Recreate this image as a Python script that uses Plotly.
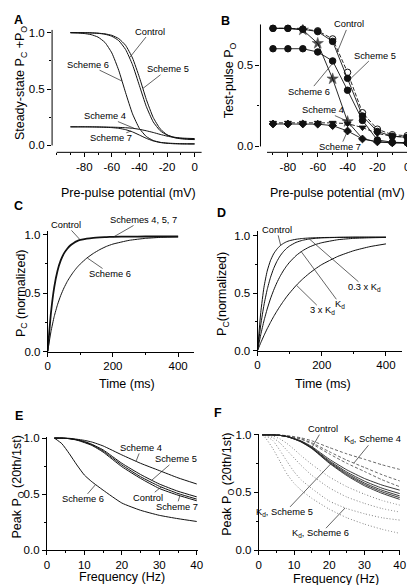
import re
import plotly.graph_objects as go

FONT = "Arial, Liberation Sans, Helvetica, sans-serif"

# ---------------- Panel A: steady-state Pc+Po vs pre-pulse potential
A_v = [-90, -85, -80, -75, -70, -65, -60, -55, -50, -45, -40, -35, -30, -25, -20, -15, -10, -5, 0]
A_control = [1.0, 0.9995, 0.9988, 0.997, 0.9937, 0.9857, 0.9676, 0.929, 0.85, 0.715, 0.53, 0.345, 0.209, 0.131, 0.092, 0.074, 0.066, 0.063, 0.061]
A_scheme5 = [1.0, 0.9997, 0.999, 0.998, 0.995, 0.989, 0.976, 0.947, 0.887, 0.775, 0.603, 0.408, 0.248, 0.148, 0.095, 0.07, 0.059, 0.054, 0.052]
A_scheme6 = [0.9985, 0.9966, 0.992, 0.982, 0.96, 0.913, 0.82, 0.666, 0.467, 0.28, 0.151, 0.079, 0.044, 0.028, 0.021, 0.018, 0.016, 0.0155, 0.015]
A_scheme4 = [0.165, 0.165, 0.165, 0.165, 0.164, 0.163, 0.162, 0.16, 0.157, 0.152, 0.143, 0.13, 0.115, 0.098, 0.083, 0.071, 0.063, 0.058, 0.055]
A_scheme7 = [0.165, 0.165, 0.165, 0.164, 0.163, 0.161, 0.158, 0.152, 0.14, 0.12, 0.092, 0.063, 0.04, 0.026, 0.019, 0.015, 0.013, 0.012, 0.012]

# ---------------- Panel B: test-pulse Po (simulated points)
B_v = [-90, -80, -70, -60, -50, -40, -30, -20, -10, 0]
B_control = [0.725, 0.725, 0.72, 0.705, 0.645, 0.418, 0.187, 0.092, 0.063, 0.056]
B_scheme5 = [0.725, 0.725, 0.72, 0.71, 0.66, 0.455, 0.207, 0.106, 0.072, 0.066]
B_scheme6 = [0.6, 0.6, 0.6, 0.58, 0.525, 0.345, 0.16, 0.04, 0.026, 0.023]
B_star = [0.725, 0.725, 0.715, 0.633, 0.415, 0.153, 0.048, 0.028, 0.024, 0.022]
B_star_shown = [False, False, True, True, True, True, False, False, False, False]
B_scheme4 = [0.145, 0.145, 0.145, 0.145, 0.145, 0.14, 0.116, 0.08, 0.062, 0.058]
B_scheme7 = [0.138, 0.138, 0.138, 0.137, 0.128, 0.095, 0.046, 0.028, 0.022, 0.02]

# ---------------- Panels C and D: Pc (normalized) vs time
T_ms = [0, 10, 20, 30, 40, 50, 60, 70, 80, 90, 100, 120, 140, 160, 180, 200, 250, 300, 350, 400]
C_control = [0, 0.33, 0.55, 0.69, 0.78, 0.84, 0.88, 0.91, 0.93, 0.945, 0.955, 0.967, 0.974, 0.978, 0.98, 0.982, 0.984, 0.985, 0.985, 0.985]
C_scheme6 = [0, 0.17, 0.3, 0.4, 0.48, 0.545, 0.6, 0.645, 0.685, 0.72, 0.75, 0.8, 0.84, 0.873, 0.9, 0.92, 0.952, 0.969, 0.978, 0.982]
D_control = [0, 0.33, 0.55, 0.69, 0.78, 0.84, 0.88, 0.91, 0.93, 0.945, 0.955, 0.967, 0.974, 0.978, 0.98, 0.982, 0.984, 0.985, 0.985, 0.985]
D_03Kd = [0, 0.223, 0.395, 0.529, 0.632, 0.712, 0.773, 0.821, 0.858, 0.887, 0.909, 0.94, 0.958, 0.969, 0.975, 0.979, 0.983, 0.985, 0.985, 0.985]
D_Kd = [0, 0.138, 0.258, 0.36, 0.448, 0.523, 0.588, 0.644, 0.692, 0.733, 0.768, 0.825, 0.867, 0.898, 0.921, 0.937, 0.963, 0.975, 0.98, 0.983]
D_3Kd = [0, 0.0675, 0.13, 0.189, 0.243, 0.294, 0.341, 0.385, 0.426, 0.465, 0.5, 0.565, 0.62, 0.668, 0.71, 0.747, 0.818, 0.868, 0.903, 0.927]

# ---------------- Panel E: peak Po (20th/1st) vs frequency
E_f = [2, 4, 6, 8, 10, 12, 15, 20, 25, 30, 35, 40]
E_control = [1.0, 1.0, 0.995, 0.985, 0.965, 0.94, 0.885, 0.76, 0.655, 0.57, 0.505, 0.455]
E_scheme5 = [1.0, 1.0, 0.995, 0.985, 0.97, 0.945, 0.895, 0.775, 0.675, 0.59, 0.525, 0.475]
E_scheme7 = [1.0, 1.0, 0.995, 0.982, 0.96, 0.935, 0.875, 0.745, 0.64, 0.55, 0.49, 0.44]
E_scheme4 = [1.0, 1.0, 0.998, 0.99, 0.98, 0.965, 0.93, 0.85, 0.775, 0.71, 0.645, 0.59]
E_scheme6 = [1.0, 0.95, 0.86, 0.76, 0.67, 0.61, 0.535, 0.42, 0.355, 0.31, 0.28, 0.255]

# ---------------- Panel F: Kd variants
F_f = [1, 2, 4, 6, 8, 10, 12, 15, 20, 25, 30, 35, 40]
F_solid = [
    [1, 1, 1, 0.996, 0.987, 0.969, 0.947, 0.899, 0.789, 0.696, 0.621, 0.564, 0.52],
    [1, 1, 1, 0.995, 0.986, 0.967, 0.944, 0.892, 0.776, 0.677, 0.598, 0.537, 0.49],
    [1, 1, 1, 0.995, 0.985, 0.966, 0.942, 0.888, 0.767, 0.665, 0.582, 0.519, 0.47],
    [1, 1, 1, 0.995, 0.985, 0.965, 0.94, 0.885, 0.76, 0.655, 0.57, 0.505, 0.455],
    [1, 1, 1, 0.995, 0.984, 0.964, 0.938, 0.882, 0.754, 0.646, 0.558, 0.492, 0.44],
]
F_dashed = [
    [1, 1, 1, 0.998, 0.993, 0.985, 0.974, 0.949, 0.89, 0.835, 0.788, 0.74, 0.70],
    [1, 1, 1, 0.998, 0.99, 0.98, 0.966, 0.932, 0.854, 0.78, 0.717, 0.654, 0.60],
    [1, 1, 1, 0.998, 0.989, 0.978, 0.962, 0.923, 0.835, 0.753, 0.682, 0.61, 0.55],
]
F_dotted = [
    [1, 1, 0.99, 0.965, 0.925, 0.875, 0.82, 0.745, 0.635, 0.55, 0.485, 0.43, 0.39],
    [1, 0.998, 0.975, 0.93, 0.865, 0.8, 0.735, 0.65, 0.54, 0.46, 0.405, 0.36, 0.33],
    [1, 0.99, 0.95, 0.865, 0.77, 0.68, 0.61, 0.535, 0.425, 0.36, 0.315, 0.28, 0.26],
    [1, 0.97, 0.88, 0.77, 0.66, 0.58, 0.52, 0.45, 0.355, 0.28, 0.225, 0.18, 0.145],
]

# tick labels
AB_ticks = [-80, -60, -40, -20, 0]
AB_ticktext = ["-80", "-60", "-40", "-20", "0"]
CD_ticks = [0, 200, 400]
EF_ticks = [0, 10, 20, 30, 40]
Y_ticks = [0, 0.5, 1.0]
Y_ticktext = ["0.0", "0.5", "1.0"]

W, H = 415, 585
fig = go.Figure()
INK = "#111111"


def curve(x, y, ax, width=1.0, dash="solid", color=INK):
    fig.add_trace(go.Scatter(x=x, y=y, xaxis="x" + ax, yaxis="y" + ax, mode="lines",
                             line=dict(color=color, width=width, dash=dash, shape="spline", smoothing=0.5),
                             hoverinfo="skip", showlegend=False))


def pts(x, y, ax, symbol, fill=INK, dash="solid", size=6.5, shown=None, mlw=1):
    sizes = size if shown is None else [size if s else 0 for s in shown]
    fig.add_trace(go.Scatter(x=x, y=y, xaxis="x" + ax, yaxis="y" + ax, mode="lines+markers",
                             line=dict(color=INK, width=0.9, dash=dash),
                             marker=dict(symbol=symbol, size=sizes, color=fill, line=dict(color=INK, width=mlw)),
                             hoverinfo="skip", showlegend=False))


# A
for ys in (A_control, A_scheme5, A_scheme6, A_scheme4, A_scheme7):
    curve(A_v, ys, "")
# B
pts(B_v, B_star, "2", "star", size=8.5, shown=B_star_shown, mlw=0.6, fill="#000000")
pts(B_v, B_scheme4, "2", "triangle-down", dash="4px,2px", size=6)
pts(B_v, B_scheme7, "2", "diamond", size=6)
pts(B_v, B_scheme6, "2", "circle")
pts(B_v, B_scheme5, "2", "circle", fill="white", dash="4px,2px")
pts(B_v, B_control, "2", "circle")
# C
curve(T_ms, C_scheme6, "3")
curve(T_ms, C_control, "3", width=1.8)
# D
for ys in (D_control, D_03Kd, D_Kd, D_3Kd):
    curve(T_ms, ys, "4")
# E
for ys in (E_control, E_scheme5, E_scheme7, E_scheme4, E_scheme6):
    curve(E_f, ys, "5")
# F
for ys in F_dotted:
    curve(F_f, ys, "6", width=1.0, dash="1px,2px", color="#808080")
for ys in F_dashed:
    curve(F_f, ys, "6", width=0.9, dash="3px,2px", color="#555555")
for ys in F_solid:
    curve(F_f, ys, "6", width=0.9, color="#222222")


def px2x(px):
    return px / W


def py2y(py):
    return 1 - py / H


def axis(dom, rng, tv, tt, minor, anchor, showline):
    return dict(domain=dom, range=rng, anchor=anchor, tickmode="array", tickvals=tv, ticktext=tt,
                ticks="outside", ticklen=4, tickwidth=1, tickcolor="black",
                showline=showline, linecolor="black", linewidth=1, mirror=False,
                showgrid=False, zeroline=False, fixedrange=True,
                tickfont=dict(family=FONT, size=11.5, color="black"),
                minor=dict(tickvals=minor, ticks="outside", ticklen=2, tickwidth=1,
                           tickcolor="black", showgrid=False))


# panel geometry in pixels: xd = (left, right) px, yd = (bottom, top) px
panels = {
    "": dict(xd=[42, 195], xr=[-103.3, 5.2], yd=[142, 17], yr=[-0.061, 1.026],
             xt=(AB_ticks, AB_ticktext, [-100, -90, -70, -50, -30, -10]),
             yt=(Y_ticks, Y_ticktext, [0.25, 0.75]), line=False),
    "2": dict(xd=[255, 412], xr=[-98.4, 4.6], yd=[142, 11.5], yr=[-0.036, 0.75],
              xt=(AB_ticks, AB_ticktext, [-90, -70, -50, -30, -10]),
              yt=([0, 0.5], ["0.0", "0.5"], [0.25]), line=False),
    "3": dict(xd=[37.5, 186.7], xr=[0, 447.6], yd=[345, 221.7], yr=[0, 1.036],
              xt=(CD_ticks, [str(v) for v in CD_ticks], [100, 300]),
              yt=(Y_ticks, Y_ticktext, [0.25, 0.75]), line=True),
    "4": dict(xd=[252, 400], xr=[0, 451], yd=[344, 221.7], yr=[0, 1.043],
              xt=(CD_ticks, [str(v) for v in CD_ticks], [100, 300]),
              yt=(Y_ticks, Y_ticktext, [0.25, 0.75]), line=True),
    "5": dict(xd=[36.7, 191], xr=[0, 40.3], yd=[547.3, 432], yr=[0, 1.011],
              xt=(EF_ticks, [str(v) for v in EF_ticks], [5, 15, 25, 35]),
              yt=(Y_ticks, Y_ticktext, [0.25, 0.75]), line=True),
    "6": dict(xd=[253.3, 398], xr=[0, 40.2], yd=[547.3, 429], yr=[0, 1.008],
              xt=(EF_ticks, [str(v) for v in EF_ticks], [5, 15, 25, 35]),
              yt=(Y_ticks, Y_ticktext, [0.25, 0.75]), line=True),
}

layout = dict(width=W, height=H, margin=dict(l=0, r=0, t=0, b=0),
              paper_bgcolor="white", plot_bgcolor="white", showlegend=False,
              font=dict(family=FONT, color="black"))
for k, p in panels.items():
    xd = [px2x(p["xd"][0]), px2x(p["xd"][1])]
    yd = [py2y(p["yd"][0]), py2y(p["yd"][1])]
    layout["xaxis" + k] = axis(xd, p["xr"], *p["xt"], anchor="y" + k, showline=p["line"])
    layout["yaxis" + k] = axis(yd, p["yr"], *p["yt"], anchor="x" + k, showline=p["line"])
fig.update_layout(**layout)

# offset axis lines for A and B (Origin style)
shapes = [
    dict(type="line", xref="x", yref="y domain", x0=-100, x1=5.2, y0=0, y1=0, line=dict(color="black", width=1)),
    dict(type="line", xref="x domain", yref="y", x0=0, x1=0, y0=0, y1=1.026, line=dict(color="black", width=1)),
    dict(type="line", xref="x2", yref="y2 domain", x0=-94, x1=4.6, y0=0, y1=0, line=dict(color="black", width=1)),
    dict(type="line", xref="x2 domain", yref="y2", x0=0, x1=0, y0=0, y1=0.75, line=dict(color="black", width=1)),
]

ann = []


def paper_text(text, px, py, size=12.5, bold=False, angle=0):
    ann.append(dict(text=("<b>%s</b>" % text) if bold else text, x=px2x(px), y=py2y(py),
                    xref="paper", yref="paper", showarrow=False, textangle=angle,
                    xanchor="center", yanchor="middle",
                    font=dict(family=FONT, size=size, color="black")))


# panel letters
for L, px, py in [("A", 8, 7), ("B", 219, 8), ("C", 8, 197), ("D", 215, 204), ("E", 8, 411), ("F", 212, 408)]:
    paper_text(L, px, py, size=12.5, bold=True)

# axis titles
paper_text("Pre-pulse potential (mV)", 120, 183.3)
paper_text("Pre-pulse potential (mV)", 334, 183.3)
paper_text("Steady-state P<sub>C</sub> +P<sub>O</sub>", 11, 71.7, angle=-90)
paper_text("Test-pulse P<sub>O</sub>", 224, 68.3, angle=-90)
paper_text("Time (ms)", 119, 378.3)
paper_text("Time (ms)", 319, 378.3)
paper_text("P<sub>C</sub> (normalized)", 10.7, 285, angle=-90)
paper_text("P<sub>C</sub>(normalized)", 217.3, 286.7, angle=-90)
paper_text("Frequency (Hz)", 113.3, 575)
paper_text("Frequency (Hz)", 331.7, 576.7)
paper_text("Peak P<sub>O</sub> (20th/1st)", 7.5, 483.3, angle=-90)
paper_text("Peak P<sub>O</sub> (20th/1st)", 221.7, 480, angle=-90)

LABEL_SIZE = 9.3


def to_px(ax, x, y):
    p = panels[ax]
    X = p["xd"][0] + (x - p["xr"][0]) / (p["xr"][1] - p["xr"][0]) * (p["xd"][1] - p["xd"][0])
    Y = p["yd"][0] + (y - p["yr"][0]) / (p["yr"][1] - p["yr"][0]) * (p["yd"][1] - p["yd"][0])
    return X, Y


def label(text, ax, tx, ty, hx, hy):
    cx, cy = to_px(ax, tx, ty)
    ex, ey = to_px(ax, hx, hy)
    ann.append(dict(text=text, x=px2x(cx), y=py2y(cy), xref="paper", yref="paper",
                    showarrow=False, xanchor="center", yanchor="middle",
                    font=dict(family=FONT, size=LABEL_SIZE, color="black")))
    plain = re.sub(r"<[^>]+>", "", text)
    hw = 0.5 * LABEL_SIZE * len(plain) / 2 + 1
    hh = LABEL_SIZE * 0.6
    dx, dy = ex - cx, ey - cy
    t = min(hw / abs(dx) if dx else 1e9, hh / abs(dy) if dy else 1e9)
    sx, sy = cx + dx * t, cy + dy * t
    shapes.append(dict(type="line", xref="paper", yref="paper",
                       x0=px2x(sx), y0=py2y(sy), x1=px2x(ex), y1=py2y(ey),
                       line=dict(color="#222222", width=0.7)))


# A
label("Control", "", -32.1, 1.009, -47, 0.78)
label("Scheme 5", "", -19.6, 0.675, -37.5, 0.505)
label("Scheme 6", "", -77.1, 0.716, -52.5, 0.57)
label("Scheme 4", "", -65.2, 0.26, -44, 0.153)
label("Scheme 7", "", -60.5, 0.064, -46, 0.128)
# B
label("Control", "2", -39.3, 0.749, -47, 0.577)
label("Scheme 5", "2", -21.9, 0.558, -38.3, 0.413)
label("Scheme 6", "2", -65.6, 0.337, -49.5, 0.516)
label("Scheme 4", "2", -56.8, 0.223, -40, 0.155)
label("Scheme 7", "2", -44.8, -0.004, -40, 0.095)
# C
label("Control", "3", 57.6, 1.084, 100, 0.955)
label("Schemes 4, 5, 7", "3", 292.5, 1.126, 202.5, 0.982)
label("Scheme 6", "3", 192.6, 0.664, 122, 0.80)
# D
label("Control", "4", 60, 1.049, 72, 0.915)
label("0.3 x K<sub>d</sub>", "4", 334, 0.55, 161.6, 0.969)
label("K<sub>d</sub>", "4", 258, 0.398, 136, 0.86)
label("3 x K<sub>d</sub>", "4", 202, 0.347, 121, 0.568)
# E
label("Scheme 4", "5", 25.2, 0.912, 23.8, 0.793)
label("Scheme 5", "5", 34.4, 0.81, 28, 0.624)
label("Control", "5", 27, 0.468, 30.5, 0.563)
label("Scheme 7", "5", 34.6, 0.386, 35.5, 0.485)
label("Scheme 6", "5", 9.6, 0.453, 13, 0.585)
# F
label("Control", "6", 18.1, 1.049, 15, 0.885)
label("K<sub>d</sub>, Scheme 4", "6", 32.4, 0.957, 27, 0.755)
label("K<sub>d</sub>, Scheme 5", "6", 7.4, 0.327, 20.5, 0.75)
label("K<sub>d</sub>, Scheme 6", "6", 17.6, 0.142, 24.5, 0.365)

fig.update_layout(annotations=ann, shapes=shapes)
fig.write_html("out.html")
